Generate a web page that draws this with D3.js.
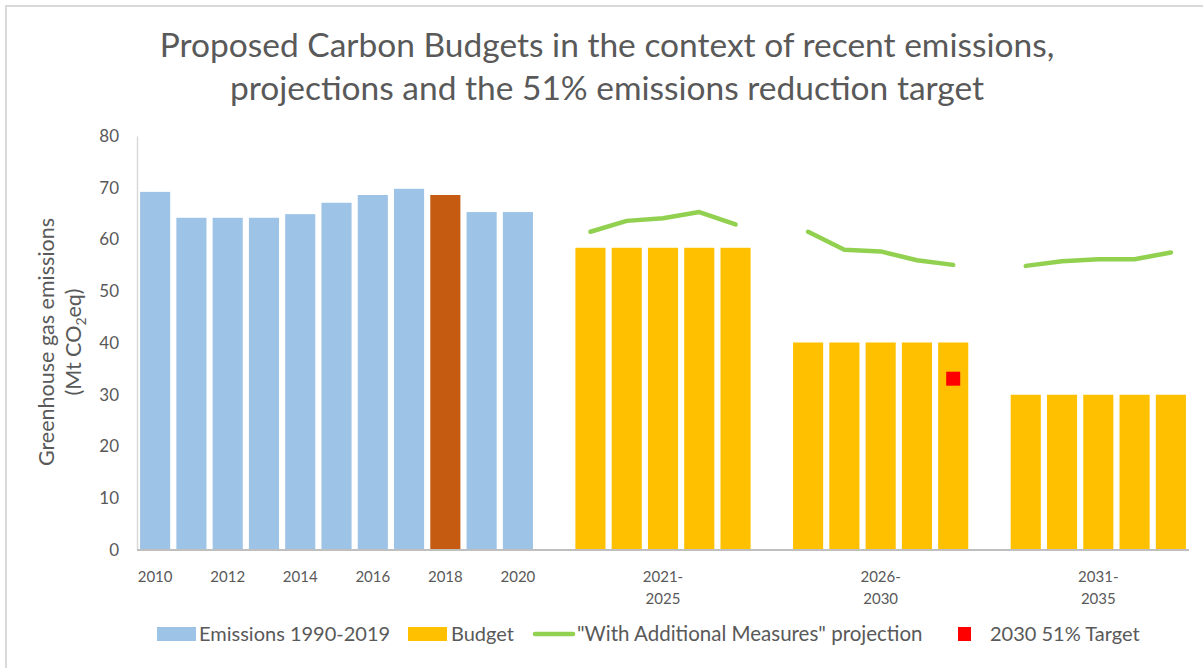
<!DOCTYPE html>
<html>
<head>
<meta charset="utf-8">
<script src="https://cdn.jsdelivr.net/npm/d3@7"></script>
<style>
  body { margin: 0; background: #fff; }
  svg text { font-family: Lato, "Open Sans", sans-serif; fill: #595959; }
</style>
</head>
<body>
<div id="chart"></div>
<script>
var width = 1203;
var height = 668;
var margin = { top: 136, right: 14, left: 137, bottom: 118 };

// categories (blank slots keep the gaps between groups)
var years = ["2010", "2011", "2012", "2013", "2014", "2015", "2016", "2017", "2018", "2019", "2020"];
var budgetYears = ["2021", "2022", "2023", "2024", "2025", "g1",
                   "2026", "2027", "2028", "2029", "2030", "g2",
                   "2031", "2032", "2033", "2034", "2035"];
var allSlots = years.concat(["g0"]).concat(budgetYears);

// values
var emissions = [69.2, 64.2, 64.2, 64.2, 64.9, 67.1, 68.6, 69.8, 68.6, 65.3, 65.3];
var highlightYear = "2018";
var budgetPeriods = [
  { years: ["2021", "2022", "2023", "2024", "2025"], label: ["2021-", "2025"], value: 58.4 },
  { years: ["2026", "2027", "2028", "2029", "2030"], label: ["2026-", "2030"], value: 40.1 },
  { years: ["2031", "2032", "2033", "2034", "2035"], label: ["2031-", "2035"], value: 30.0 }
];
var wamProjection = [
  [61.5, 63.6, 64.1, 65.3, 62.9],
  [61.5, 58.0, 57.7, 56.0, 55.1],
  [54.9, 55.8, 56.2, 56.2, 57.5]
];
var target = { year: "2030", value: 33.1 };
var yTicks = [0, 10, 20, 30, 40, 50, 60, 70, 80];
var xTickYears = ["2010", "2012", "2014", "2016", "2018", "2020"];

var lb_blue = "#9dc3e6";
var lb_orange = "#c55a11";
var lb_gold = "#ffc000";
var lb_green = "#92d050";
var lb_red = "#ff0000";
var lb_grey = "#bfbfbf";

var svg = d3.select("#chart")
  .append("svg")
  .attr("width", width)
  .attr("height", height);

// chart border (top and left visible)
svg.append("rect")
  .attr("x", 6).attr("y", 6)
  .attr("width", width + 20).attr("height", height + 20)
  .attr("fill", "none")
  .attr("stroke", "#d9d9d9")
  .attr("stroke-width", 2);

var x = d3.scaleBand()
  .domain(allSlots)
  .range([margin.left, width - margin.right])
  .paddingInner(0.17)
  .paddingOuter(0.085);

var y = d3.scaleLinear()
  .domain([0, 80])
  .range([height - margin.bottom, margin.top]);

// title
svg.append("text")
  .attr("x", 607).attr("y", 57)
  .attr("text-anchor", "middle")
  .style("font-size", "33.5px")
  .text("Proposed Carbon Budgets in the context of recent emissions,");
svg.append("text")
  .attr("x", 607).attr("y", 100)
  .attr("text-anchor", "middle")
  .style("font-size", "33.5px")
  .text("projections and the 51% emissions reduction target");

// y axis
var yAxis = svg.append("g")
  .attr("transform", "translate(" + margin.left + ",0)")
  .call(d3.axisLeft(y).tickValues(yTicks).tickSize(0).tickPadding(18));
yAxis.select(".domain").attr("stroke", "#d9d9d9").attr("stroke-width", 1.5);
yAxis.selectAll("text").style("font-size", "17px").attr("fill", "#595959");

// y label
var yl = svg.append("text")
  .attr("transform", "translate(54,342) rotate(-90)")
  .attr("text-anchor", "middle")
  .style("font-size", "21.5px");
yl.append("tspan").attr("x", 0).attr("dy", 0).text("Greenhouse gas emissions");
var yl2 = svg.append("text")
  .attr("transform", "translate(81,342) rotate(-90)")
  .attr("text-anchor", "middle")
  .style("font-size", "21.5px");
yl2.append("tspan").text("(Mt CO");
yl2.append("tspan").attr("dy", 5).style("font-size", "14px").text("2");
yl2.append("tspan").attr("dy", -5).text("eq)");

// historic bars
svg.append("g")
  .selectAll("rect")
  .data(years)
  .join("rect")
  .attr("x", (d) => x(d))
  .attr("width", x.bandwidth())
  .attr("y", (d, i) => y(emissions[i]))
  .attr("height", (d, i) => y(0) - y(emissions[i]))
  .attr("fill", (d) => d === highlightYear ? lb_orange : lb_blue);

// budget bars
budgetPeriods.forEach(function (p) {
  svg.append("g")
    .selectAll("rect")
    .data(p.years)
    .join("rect")
    .attr("x", (d) => x(d))
    .attr("width", x.bandwidth())
    .attr("y", y(p.value))
    .attr("height", y(0) - y(p.value))
    .attr("fill", lb_gold);
});

// x axis line
svg.append("line")
  .attr("x1", margin.left).attr("x2", width - margin.right)
  .attr("y1", y(0)).attr("y2", y(0))
  .attr("stroke", lb_grey).attr("stroke-width", 2);

// x labels
svg.append("g")
  .selectAll("text")
  .data(xTickYears)
  .join("text")
  .attr("x", (d) => x(d) + x.bandwidth() / 2)
  .attr("y", 582)
  .attr("text-anchor", "middle")
  .style("font-size", "15px")
  .text((d) => d);

budgetPeriods.forEach(function (p) {
  var cx = x(p.years[2]) + x.bandwidth() / 2;
  p.label.forEach(function (t, j) {
    svg.append("text")
      .attr("x", cx)
      .attr("y", 582 + j * 22)
      .attr("text-anchor", "middle")
      .style("font-size", "15px")
      .text(t);
  });
});

// projection lines
var line = d3.line()
  .x((d) => x(d.year) + x.bandwidth() / 2)
  .y((d) => y(d.value));

budgetPeriods.forEach(function (p, k) {
  var pts = p.years.map((yr, i) => ({ year: yr, value: wamProjection[k][i] }));
  svg.append("path")
    .datum(pts)
    .attr("d", line)
    .attr("fill", "none")
    .attr("stroke", lb_green)
    .attr("stroke-width", 4.5)
    .attr("stroke-linecap", "round")
    .attr("stroke-linejoin", "round");
});

// target marker
svg.append("rect")
  .attr("x", x(target.year) + x.bandwidth() / 2 - 7)
  .attr("y", y(target.value) - 7)
  .attr("width", 14)
  .attr("height", 14)
  .attr("fill", lb_red);

// legend
var legend = svg.append("g").attr("transform", "translate(0,634)");
legend.append("rect").attr("x", 157).attr("y", -7).attr("width", 39).attr("height", 14).attr("fill", lb_blue);
legend.append("text").attr("x", 199).attr("y", 7).style("font-size", "20px").text("Emissions 1990-2019");
legend.append("rect").attr("x", 408).attr("y", -7).attr("width", 39).attr("height", 14).attr("fill", lb_gold);
legend.append("text").attr("x", 451).attr("y", 7).style("font-size", "20px").text("Budget");
legend.append("line").attr("x1", 535).attr("x2", 573).attr("y1", 0).attr("y2", 0)
  .attr("stroke", lb_green).attr("stroke-width", 4.5).attr("stroke-linecap", "round");
legend.append("text").attr("x", 577).attr("y", 7).style("font-size", "20.5px").text("\"With Additional Measures\" projection");
legend.append("rect").attr("x", 958).attr("y", -7).attr("width", 13).attr("height", 14).attr("fill", lb_red);
legend.append("text").attr("x", 990).attr("y", 7).style("font-size", "20px").text("2030 51% Target");
</script>
</body>
</html>
